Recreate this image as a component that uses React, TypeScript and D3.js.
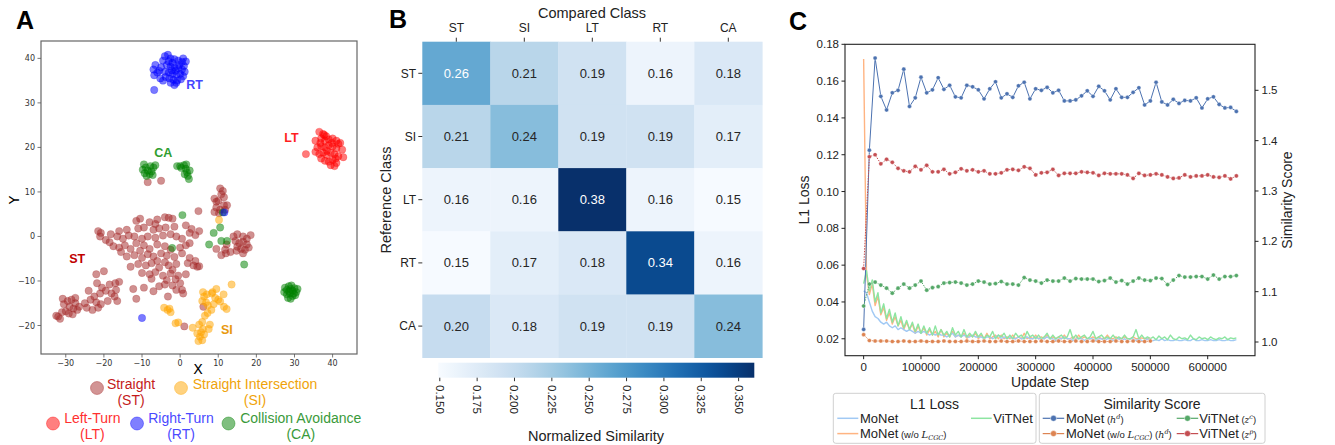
import React from 'react';
import * as d3 from 'd3';

// ---------------- Panel A data (t-SNE embedding) ----------------
const stPoints: [number, number][] = [
  [-11.5,3.5],[-10.5,4],[-8,3.2],[-6,3.8],[-4,4.3],[-3,4.2],[-2,4],[-6.5,2.8],
  [-21.5,1.2],[-20.8,0.8],[-16,1.2],[-14,1.5],[-11,1.8],[-9.5,2],[-7,1.5],[-5.5,1.8],[-3.8,2],[-1.5,2.2],[1.5,2.5],[3,1.7],[5,1.2],
  [-21,0],[-18.2,0.5],[-16.5,0],[-15,-0.5],[-13.5,0.2],[-12,0],[-10,-0.5],[-8.5,0],[-6.5,-0.3],[-4.5,0.2],[-2.5,0.5],[-1,0],[0.5,-0.5],[2.5,0.8],[4,0.3],[-19.5,-0.8],[-18.5,-1.3],
  [-17.5,-2.2],[-16,-2.5],[-14.5,-2],[-13,-2.8],[-11.5,-1.5],[-9.5,-2],[-8,-2.8],[-6,-1.8],[-4,-2.2],[-2.5,-3],[0,-2.5],[1.5,-2],[2.5,-1.5],[-15.5,-3.5],[-10.5,-3.2],
  [-14,-4.5],[-12,-4.2],[-10,-4.8],[-8.5,-4],[-7,-4.5],[-5,-3.8],[-3.5,-4.3],[-1.5,-4.6],[0.5,-3.8],[-6,-5.5],[-4,-5.8],
  [-13,-6.8],[-11,-6.2],[-9,-6.5],[-7.5,-6],[-5.5,-7],[-3,-6.5],[-1,-6.2],[2,-6],[3.5,-6.5],[4.5,-6.8],[-2,-7.5],
  [-10,-8.2],[-8,-8.5],[-6.5,-8],[-4.5,-8.8],[-2.5,-8.3],[-0.5,-8.8],[1.5,-8.5],[-7.5,-9.5],[-3.5,-9.8],[-1.2,-9.6],
  [-12.3,-11.8],[-9.5,-11.5],[-7,-12.3],[-4,-10.8],[-2,-11],[0,-10.5],[0.5,-12],[0.8,-12.8],[-1,-12],[-5.5,-11.2],
  [-22,-8.5],[-20,-7.8],[-21.8,-10.5],[-20.5,-11.5],[-18.5,-10.8],[-17,-10.5],[-16,-10.2],[-19.5,-12.2],[-18,-12.8],[-17.2,-13.5],
  [-16.5,-14.5],[-21,-12.8],[-22.5,-13.5],[-24,-12.2],[-23.5,-14.2],[-22,-14.8],[-20.8,-15.2],[-25,-15],[-24.5,-16],[-23,-16.5],
  [-21.5,-16],[-26.5,-15.8],[-27.5,-13.8],[-28.5,-14.2],[-29.5,-14.5],[-30.5,-15.2],[-29,-15.8],[-28,-16.2],[-27,-16.5],[-30,-16.8],
  [-29.2,-17.3],[-28.2,-17.5],[-31,-17],[-32,-18],[-31.5,-18.5],[-32.5,-17.8],[-27.5,-15],[-30.8,-14],[-19,-14.5],[-16.8,-12],
  [10.5,10.8],[11.2,10.2],[10.8,9.5],[11.5,8.8],[9,8.5],[9.5,7.8],[10,8],[12.3,7],[11.5,7],[9.5,6.5],[10.5,6],[9,5.5],[10.2,5.2],[11.8,6],
  [14,0],[15,0.5],[16.5,0],[17.5,-0.5],[18.5,0.3],[14.5,-1],[15.5,-1.5],[16.5,-1.2],[17.5,-1.8],[15,-2.3],[16,-2.8],[17,-3],[18,-2.5],
  [16.5,-3.8],[14.8,-3.2],[13.2,-3.5],[12,-3.8],[11.8,-3],[9.5,-2.8],[10.8,-4.2],[12.2,-1.8],
  [-8.5,12.2],[-5,12.5],[4.8,5.7],[6.1,-15.8],[1.1,-20.2],[-3.2,-13.5],[4,-5.5],[2.5,-4.8],[-11.5,-14],[5,-6.7]
];
const siPoints: [number, number][] = [
  [-4.2,-16],[-3.3,-16.5],[-2.5,-17],[-2.8,-16.2],[-1.2,-19.5],[-0.5,-19.3],[3.3,-20.5],[5,-19.8],[5.8,-19.2],[6,-20.8],
  [4.5,-21.8],[5.2,-22.5],[5.8,-23.3],[4.8,-23.5],[5.5,-21.5],[6.3,-22],[7.5,-20.8],[7.8,-19.8],[6.5,-17.8],[7.2,-17.2],
  [8.2,-16.5],[8.8,-15.2],[9.2,-13.8],[8.5,-12.5],[6,-12.5],[6.3,-13.5],[5.8,-14.5],[7,-13],[8.3,-12.8],[9.5,-11.8],
  [10,-14.2],[10.5,-14.6],[11.5,-15.8],[12.2,-16.3],[11.4,-13],[13.5,-10.8],[6.8,-14.8],[10.2,3.7],[7.3,-15.5]
];
const ltPoints: [number, number][] = [
  [33,18.5],[35.5,21.5],[36.5,23.5],[37.5,23],[38.3,22.5],[37,22],[38,21.5],[39,21.8],[40,22],[41,21.5],[42,21],
  [36,20],[37,20.3],[38,20],[39,20.5],[40,20.2],[41,19.8],[42.5,19.5],[35.5,19],[36.5,18.5],[37.5,18.8],[38.5,18.3],
  [39.5,18.8],[40.5,18.5],[41.5,18],[42.8,17.8],[37,17.5],[38,17],[39,16.8],[40,17.2],[41,16.5],[40.5,15.8],[39.5,16],
  [38.5,19.2],[39.8,21],[36.8,21],[41.5,20.8],[37.8,22.8],[40.8,17.5]
];
const rtPoints: [number, number][] = [
  [-6.5,38.5],[-7,37.5],[-6,36.8],[-6.8,36.2],[-5,38],[-4.5,39.5],[-4,40.5],[-3.2,40.8],[-2.5,40],[-1.5,39.8],[-0.5,39.5],
  [0.5,39.2],[1.5,39.3],[-3.5,38.5],[-2.5,38.2],[-1.5,38],[-0.5,37.8],[0.5,37.5],[1,38.3],[-4,37],[-3,36.8],[-2,36.5],
  [-1,36.3],[0,36.5],[0.8,36],[-3.8,35.8],[-2.8,35.5],[-1.8,35.2],[-0.8,35],[0.2,35.3],[-2.5,34.5],[-1.5,34],[-1,34.5],
  [-5.2,35.5],[-4.5,35],[-6.8,32.9],[1.2,37],[-3,39.3],[-2,39],[-5.5,37.2],[-0.2,38.5],[-1.2,37.2],[-2.2,37.3],[0.8,40],
  [-10,-18.3],[11.6,5.4]
];
const caPoints: [number, number][] = [
  [-9.5,16.2],[-9.8,15],[-9.3,14.2],[-8.5,14.8],[-8,14],[-7.5,14.6],[-7,15.5],[-6.5,16],[-8.8,13.6],[-7.8,15.8],[-9,15.5],[-7.2,13.8],
  [-0.8,15.8],[0,15.8],[1,16],[1.5,15.2],[1.8,14.4],[2,13.6],[2.3,12.9],[1.2,14],[0.3,15.4],[1.6,16.2],[2.5,14.8],
  [27.5,-11.5],[28,-12],[28.5,-11.2],[29,-11.8],[29.5,-12.2],[30,-11.6],[30.5,-12.5],[28,-13],[28.8,-12.8],[29.5,-13.4],
  [30.2,-13.2],[28.3,-13.8],[29,-14],[27.3,-12.5],[30.8,-11.8],[29.2,-11],[28.6,-12.3],[29.8,-12.8],
  [0.6,4.8],[11.2,5.4],[10.5,2],[8.8,0.8],[10.8,-1],[12.3,-1],[7.6,-1.8],[-2.1,-2.6],[16.8,-6.3]
];
const scatterTicksX = [-30, -20, -10, 0, 10, 20, 30, 40];
const scatterTicksY = [-20, -10, 0, 10, 20, 30, 40];
const clusterLabels = [
  { text: 'RT', x: 1.6, y: 33.1, color: '#4646ff' },
  { text: 'LT', x: 27.3, y: 21.3, color: '#ff1f1f' },
  { text: 'CA', x: -6.8, y: 17.75, color: '#2f9e2f' },
  { text: 'ST', x: -29.1, y: -6.07, color: '#c00000' },
  { text: 'SI', x: 10.7, y: -21.95, color: '#e8990f' },
];

// ---------------- Panel B data ----------------
const classNames = ['ST', 'SI', 'LT', 'RT', 'CA'];
const heatST = [0.26, 0.21, 0.19, 0.16, 0.18];
const heatSI = [0.21, 0.24, 0.19, 0.19, 0.17];
const heatLT = [0.16, 0.16, 0.38, 0.16, 0.15];
const heatRT = [0.15, 0.17, 0.18, 0.34, 0.16];
const heatCA = [0.20, 0.18, 0.19, 0.19, 0.24];
const colorbarTicks = [0.150, 0.175, 0.200, 0.225, 0.250, 0.275, 0.300, 0.325, 0.350];

// ---------------- Panel C data ----------------
const lossStep = 5000;
const simStep = 10000;
const lossMoNet = [
  0.046,0.045,0.040,0.035,0.032,0.031,0.029,0.028,0.029,0.027,0.026,0.027,0.025,0.026,0.025,0.024,0.025,0.024,0.023,0.024,0.023,
  0.024,0.023,0.022,0.023,0.022,0.023,0.022,0.022,0.021,0.022,0.023,0.021,0.022,0.021,0.022,0.021,0.021,0.022,0.021,0.021,
  0.021,0.020,0.021,0.021,0.020,0.021,0.022,0.020,0.021,0.020,0.021,0.020,0.020,0.021,0.020,0.020,0.021,0.020,0.020,0.021,
  0.020,0.020,0.020,0.021,0.020,0.020,0.019,0.020,0.020,0.021,0.020,0.020,0.019,0.020,0.020,0.020,0.019,0.020,0.020,0.020,
  0.019,0.020,0.020,0.019,0.020,0.020,0.019,0.020,0.020,0.019,0.020,0.019,0.020,0.020,0.019,0.020,0.019,0.019,0.020,0.019,
  0.019,0.0195,0.019,0.020,0.019,0.0195,0.019,0.019,0.0195,0.019,0.019,0.0195,0.019,0.019,0.020,0.019,0.019,0.0195,0.019,0.019,
  0.0195,0.019,0.019,0.0195,0.019,0.019,0.0195,0.019,0.019,0.0195
];
const lossViTNet = [
  0.050,0.057,0.046,0.052,0.040,0.045,0.034,0.039,0.031,0.036,0.029,0.034,0.027,0.032,0.026,0.030,0.025,0.029,0.024,0.028,0.023,
  0.027,0.023,0.026,0.022,0.027,0.022,0.025,0.022,0.024,0.021,0.026,0.022,0.024,0.021,0.025,0.021,0.023,0.021,0.024,0.021,
  0.023,0.020,0.022,0.021,0.024,0.020,0.022,0.021,0.023,0.020,0.022,0.020,0.023,0.021,0.022,0.020,0.024,0.021,0.022,0.020,
  0.022,0.020,0.021,0.023,0.020,0.022,0.020,0.021,0.022,0.020,0.021,0.025,0.020,0.022,0.020,0.021,0.022,0.020,0.021,0.024,
  0.020,0.021,0.022,0.020,0.021,0.020,0.022,0.020,0.021,0.020,0.022,0.020,0.020,0.021,0.025,0.020,0.022,0.020,0.021,0.020,
  0.021,0.0195,0.0215,0.020,0.021,0.0195,0.022,0.020,0.0195,0.021,0.020,0.0205,0.0195,0.022,0.020,0.0195,0.021,0.020,0.0205,0.0195,
  0.021,0.020,0.0195,0.0205,0.020,0.021,0.0195,0.0205,0.020,0.0205
];
const lossMoNetNoCGC = [
  0.172,0.055,0.044,0.050,0.038,0.043,0.033,0.037,0.030,0.034,0.028,0.032,0.027,0.030,0.025,0.029,0.025,0.028,0.023,0.027,0.023,
  0.026,0.022,0.025,0.022,0.024,0.021,0.025,0.021,0.023,0.021,0.024,0.021,0.022,0.021,0.023,0.020,0.022,0.021,0.023,0.020,
  0.022,0.020,0.023,0.020,0.021,0.022,0.020,0.022,0.020,0.021,0.020,0.022,0.020,0.021,0.020,0.023,0.020,0.021,0.020,0.022,
  0.020,0.021,0.020,0.022,0.020,0.021,0.020,0.021,0.020,0.022,0.020,0.020,0.021,0.020,0.022,0.020,0.021,0.020,0.020,0.021,
  0.020,0.021,0.020,0.020,0.022,0.020,0.020,0.021,0.020,0.020,0.021,0.020,0.020,0.021,0.020,0.020,0.0205,0.020,0.020,0.0205
];
const simMoNet = [
  1.025,1.381,1.564,1.488,1.461,1.495,1.500,1.542,1.468,1.485,1.526,1.495,1.501,1.525,1.502,1.510,1.487,1.485,1.510,1.507,
  1.501,1.483,1.503,1.517,1.485,1.493,1.486,1.509,1.516,1.483,1.503,1.500,1.506,1.495,1.500,1.479,1.479,1.481,1.489,1.499,
  1.488,1.508,1.499,1.481,1.503,1.486,1.486,1.496,1.505,1.471,1.479,1.516,1.477,1.471,1.482,1.474,1.480,1.479,1.485,1.465,
  1.483,1.487,1.472,1.465,1.466,1.458
];
const simMoNetNoCGC = [
  1.0146,1.003,1.002,1.002,1.002,1.001,1.001,1.002,1.001,1.001,1.002,1.001,1.001,1.001,1.002,1.001,1.001,1.001,1.002,1.001,
  1.001,1.002,1.001,1.001,1.002,1.001,1.001,1.002,1.001,1.001,1.001,1.002,1.001,1.001,1.002,1.001,1.001,1.002,1.001,1.001,
  1.002,1.001,1.001,1.001,1.002,1.001,1.001,1.002,1.001,1.001,1.002
];
const simViTNetC = [
  1.0715,1.115,1.119,1.113,1.107,1.097,1.107,1.115,1.107,1.113,1.121,1.103,1.108,1.110,1.117,1.118,1.119,1.117,1.113,1.115,
  1.121,1.119,1.115,1.116,1.120,1.115,1.115,1.113,1.128,1.123,1.121,1.117,1.123,1.121,1.121,1.127,1.121,1.126,1.125,1.125,
  1.125,1.120,1.122,1.127,1.119,1.122,1.115,1.121,1.127,1.123,1.122,1.127,1.126,1.114,1.123,1.132,1.129,1.129,1.130,1.130,
  1.125,1.133,1.125,1.130,1.130,1.132
];
const simViTNetP = [
  1.146,1.368,1.372,1.354,1.363,1.357,1.345,1.340,1.338,1.349,1.342,1.351,1.338,1.338,1.343,1.334,1.337,1.344,1.340,1.342,
  1.338,1.340,1.334,1.334,1.336,1.342,1.343,1.341,1.348,1.345,1.332,1.336,1.337,1.343,1.331,1.335,1.335,1.335,1.338,1.337,
  1.336,1.331,1.335,1.334,1.334,1.334,1.332,1.325,1.335,1.331,1.332,1.334,1.332,1.328,1.325,1.326,1.332,1.328,1.330,1.330,
  1.332,1.328,1.327,1.330,1.324,1.330
];
const lossTicks = [0.02, 0.04, 0.06, 0.08, 0.10, 0.12, 0.14, 0.16, 0.18];
const simTicks = [1.0, 1.1, 1.2, 1.3, 1.4, 1.5];
const stepTicks = [0, 100000, 200000, 300000, 400000, 500000, 600000];

const SANS = "'Liberation Sans', Arial, sans-serif";
const DJ = "'DejaVu Sans', sans-serif";

function PanelA() {
  const x = d3.scaleLinear().domain([-36.5, 46.4]).range([41, 357]);
  const y = d3.scaleLinear().domain([-26.4, 43.9]).range([354, 41]);
  const groups = [
    { pts: stPoints, color: '#a52a2a' },
    { pts: siPoints, color: '#ffa500' },
    { pts: ltPoints, color: '#ff0000' },
    { pts: rtPoints.slice(0, rtPoints.length - 2), color: '#0000ff' },
    { pts: caPoints, color: '#008000' },
    { pts: rtPoints.slice(rtPoints.length - 2), color: '#0000ff' },
  ];
  const legend = [
    { cx: 97, cy: 388, color: '#a52a2a', tx: 131, l1: 'Straight', l2: '(ST)', tc: '#c41a1a', b: 388.5 },
    { cx: 181, cy: 388, color: '#ffa500', tx: 255, l1: 'Straight Intersection', l2: '(SI)', tc: '#f0a30a', b: 388.5 },
    { cx: 53, cy: 423.5, color: '#ff0000', tx: 92.3, l1: 'Left-Turn', l2: '(LT)', tc: '#ff3030', b: 422.5 },
    { cx: 137, cy: 423.5, color: '#0000ff', tx: 181, l1: 'Right-Turn', l2: '(RT)', tc: '#4a4aff', b: 422.5 },
    { cx: 228.5, cy: 423.5, color: '#008000', tx: 300.8, l1: 'Collision Avoidance', l2: '(CA)', tc: '#3a9a3a', b: 422.5 },
  ];
  return (
    <g>
      <text x={16} y={29} fontFamily={SANS} fontWeight="bold" fontSize={25}>A</text>
      <rect x={41} y={41} width={316} height={313} fill="#fff" stroke="#666" strokeWidth={1.2} />
      {groups.map((g, gi) => g.pts.map((p, i) => (
        <circle key={gi + '-' + i} cx={x(p[0])} cy={y(p[1])} r={3.7} fill={g.color} fillOpacity={0.52}
          stroke={g.color} strokeOpacity={0.35} strokeWidth={0.6} />
      )))}
      {scatterTicksX.map(t => (
        <g key={'xt' + t}>
          <line x1={x(t)} x2={x(t)} y1={354} y2={357.5} stroke="#555" strokeWidth={0.8} />
          <text x={x(t)} y={366} textAnchor="middle" fontFamily={DJ} fontSize={8} fill="#333">{t < 0 ? '\u2212' + (-t) : t}</text>
        </g>
      ))}
      {scatterTicksY.map(t => (
        <g key={'yt' + t}>
          <line x1={37.5} x2={41} y1={y(t)} y2={y(t)} stroke="#555" strokeWidth={0.8} />
          <text x={35} y={y(t) + 3} textAnchor="end" fontFamily={DJ} fontSize={8} fill="#333">{t < 0 ? '\u2212' + (-t) : t}</text>
        </g>
      ))}
      {clusterLabels.map(c => (
        <text key={c.text} x={x(c.x)} y={y(c.y)} fontFamily={SANS} fontWeight="bold" fontSize={12.5} fill={c.color}>{c.text}</text>
      ))}
      <text x={198} y={374} textAnchor="middle" fontFamily={DJ} fontSize={14}>X</text>
      <text transform="translate(19,200) rotate(-90)" textAnchor="middle" fontFamily={DJ} fontSize={14}>Y</text>
      {legend.map(l => (
        <g key={l.l1}>
          <circle cx={l.cx} cy={l.cy} r={6.5} fill={l.color} fillOpacity={0.5} stroke={l.color} strokeOpacity={0.5} strokeWidth={0.8} />
          <text x={l.tx} y={l.b} textAnchor="middle" fontFamily={SANS} fontSize={14} fill={l.tc}>{l.l1}</text>
          <text x={l.tx} y={l.b + 16.5} textAnchor="middle" fontFamily={SANS} fontSize={14} fill={l.tc}>{l.l2}</text>
        </g>
      ))}
    </g>
  );
}

function PanelB() {
  const rows = [heatST, heatSI, heatLT, heatRT, heatCA];
  const xb = d3.scaleBand<string>().domain(classNames).range([422.3, 762.3]);
  const yb = d3.scaleBand<string>().domain(classNames).range([41.7, 357.7]);
  const color = d3.scaleSequential(d3.interpolateBlues).domain([0.149, 0.3605]).clamp(true);
  const cb = d3.scaleLinear().domain([0.149, 0.3605]).range([438.3, 754.3]);
  const stops = d3.range(0, 1.0001, 0.05);
  return (
    <g>
      <defs>
        <linearGradient id="cbgrad" x1="0" x2="1" y1="0" y2="0">
          {stops.map(s => <stop key={s} offset={s} stopColor={d3.interpolateBlues(s)} />)}
        </linearGradient>
      </defs>
      <text x={389} y={28} fontFamily={SANS} fontWeight="bold" fontSize={25}>B</text>
      <text x={592} y={18} textAnchor="middle" fontFamily={SANS} fontSize={14.5} fill="#222">Compared Class</text>
      {rows.map((row, ri) => row.map((v, ci) => (
        <g key={ri + '-' + ci}>
          <rect x={xb(classNames[ci])} y={yb(classNames[ri])} width={xb.bandwidth() + 0.3} height={yb.bandwidth() + 0.3} fill={color(v)} />
          <text x={xb(classNames[ci])! + xb.bandwidth() / 2} y={yb(classNames[ri])! + yb.bandwidth() / 2 + 4.5}
            textAnchor="middle" fontFamily={SANS} fontSize={13} fill={v > 0.25 ? '#fff' : '#262626'}>{v.toFixed(2)}</text>
        </g>
      )))}
      {classNames.map(c => (
        <g key={'c' + c}>
          <line x1={xb(c)! + xb.bandwidth() / 2} x2={xb(c)! + xb.bandwidth() / 2} y1={37.7} y2={41.7} stroke="#333" />
          <text x={xb(c)! + xb.bandwidth() / 2} y={32} textAnchor="middle" fontFamily={SANS} fontSize={12} fill="#222">{c}</text>
          <line x1={418.3} x2={422.3} y1={yb(c)! + yb.bandwidth() / 2} y2={yb(c)! + yb.bandwidth() / 2} stroke="#333" />
          <text x={416} y={yb(c)! + yb.bandwidth() / 2 + 4.3} textAnchor="end" fontFamily={SANS} fontSize={12} fill="#222">{c}</text>
        </g>
      ))}
      <text transform="translate(391,200) rotate(-90)" textAnchor="middle" fontFamily={SANS} fontSize={14.5} fill="#222">Reference Class</text>
      <rect x={438.3} y={362.7} width={316} height={15} fill="url(#cbgrad)" />
      {colorbarTicks.map(t => (
        <g key={'cb' + t}>
          <line x1={cb(t)} x2={cb(t)} y1={377.7} y2={381.2} stroke="#333" />
          <text transform={`translate(${cb(t)},385) rotate(90)`} textAnchor="start" dy="0.35em" fontFamily={SANS} fontSize={11.5} fill="#222">{t.toFixed(3)}</text>
        </g>
      ))}
      <text x={596} y={441} textAnchor="middle" fontFamily={SANS} fontSize={14.5} fill="#222">Normalized Similarity</text>
    </g>
  );
}

function PanelC() {
  const x = d3.scaleLinear().domain([-32500, 682500]).range([845, 1255]);
  const yL = d3.scaleLinear().domain([0.0108, 0.18]).range([355.7, 44.3]);
  const yR = d3.scaleLinear().domain([0.9728, 1.5914]).range([355.7, 44.3]);
  const lossLine = d3.line<number>().x((_, i) => x(i * lossStep)).y(v => yL(v));
  const simLine = d3.line<number>().x((_, i) => x(i * simStep)).y(v => yR(v));
  const losses = [
    { data: lossMoNetNoCGC, color: '#ffb482' },
    { data: lossMoNet, color: '#a1c9f4' },
    { data: lossViTNet, color: '#8de5a1' },
  ];
  const sims = [
    { data: simMoNet, color: '#4c72b0', dash: undefined },
    { data: simMoNetNoCGC, color: '#dd8452', dash: '1.5,1.2' },
    { data: simViTNetC, color: '#55a868', dash: '1.5,1.2' },
    { data: simViTNetP, color: '#c44e52', dash: '1.5,1.2' },
  ];
  const small = 9.5;
  return (
    <g>
      <defs>
        <clipPath id="cclip"><rect x={845} y={44.3} width={410} height={311.4} /></clipPath>
      </defs>
      <text x={789} y={30} fontFamily={SANS} fontWeight="bold" fontSize={25}>C</text>
      <g clipPath="url(#cclip)">
        {losses.map((l, i) => (
          <path key={'l' + i} d={lossLine(l.data)!} fill="none" stroke={l.color} strokeWidth={1.4} strokeLinejoin="round" />
        ))}
        {sims.map((s, i) => (
          <g key={'s' + i}>
            <path d={simLine(s.data)!} fill="none" stroke={s.color} strokeWidth={1} strokeDasharray={s.dash} />
            {s.data.map((v, j) => (
              <circle key={j} cx={x(j * simStep)} cy={yR(v)} r={2.1} fill={s.color} stroke="#fff" strokeWidth={0.4} />
            ))}
          </g>
        ))}
      </g>
      <rect x={845} y={44.3} width={410} height={311.4} fill="none" stroke="#222" strokeWidth={1.1} />
      {lossTicks.map(t => (
        <g key={'lt' + t}>
          <line x1={841.5} x2={845} y1={yL(t)} y2={yL(t)} stroke="#222" />
          <text x={839} y={yL(t) + 4} textAnchor="end" fontFamily={SANS} fontSize={11.5} fill="#222">{t.toFixed(2)}</text>
        </g>
      ))}
      {simTicks.map(t => (
        <g key={'st' + t}>
          <line x1={1255} x2={1258.5} y1={yR(t)} y2={yR(t)} stroke="#222" />
          <text x={1261.5} y={yR(t) + 4} textAnchor="start" fontFamily={SANS} fontSize={11.5} fill="#222">{t.toFixed(1)}</text>
        </g>
      ))}
      {stepTicks.map(t => (
        <g key={'xt' + t}>
          <line x1={x(t)} x2={x(t)} y1={355.7} y2={359.2} stroke="#222" />
          <text x={x(t)} y={371} textAnchor="middle" fontFamily={SANS} fontSize={11.5} fill="#222">{t}</text>
        </g>
      ))}
      <text x={1050} y={387} textAnchor="middle" fontFamily={SANS} fontSize={14} fill="#222">Update Step</text>
      <text transform="translate(809,200) rotate(-90)" textAnchor="middle" fontFamily={SANS} fontSize={14} fill="#222">L1 Loss</text>
      <text transform="translate(1292,200) rotate(-90)" textAnchor="middle" fontFamily={SANS} fontSize={14} fill="#222">Similarity Score</text>

      {/* legend: L1 Loss */}
      <rect x={833.3} y={393.3} width={202.7} height={50} rx={2.5} fill="#fff" stroke="#d0d0d0" strokeWidth={1} />
      <text x={934.5} y={408.5} textAnchor="middle" fontFamily={SANS} fontSize={14} fill="#222">L1 Loss</text>
      <line x1={837.3} x2={858.3} y1={418.3} y2={418.3} stroke="#a1c9f4" strokeWidth={1.5} />
      <text x={860} y={422.8} fontFamily={SANS} fontSize={13} fill="#222">MoNet</text>
      <line x1={971} x2={991.7} y1={418.3} y2={418.3} stroke="#8de5a1" strokeWidth={1.5} />
      <text x={993.3} y={422.8} fontFamily={SANS} fontSize={13} fill="#222">ViTNet</text>
      <line x1={837.3} x2={858.3} y1={433.6} y2={433.6} stroke="#ffb482" strokeWidth={1.5} />
      <text x={860} y={438} fontFamily={SANS} fontSize={13} fill="#222">MoNet<tspan fontSize={small}> (w/o </tspan><tspan fontStyle="italic" fontFamily="'DejaVu Serif', serif" fontSize={10}>L</tspan><tspan fontStyle="italic" fontFamily="'DejaVu Serif', serif" fontSize={6.5} dy={2}>CGC</tspan><tspan fontSize={small} dy={-2}>)</tspan></text>

      {/* legend: Similarity Score */}
      <rect x={1039.3} y={393.3} width={225.7} height={50} rx={2.5} fill="#fff" stroke="#d0d0d0" strokeWidth={1} />
      <text x={1152} y={408.5} textAnchor="middle" fontFamily={SANS} fontSize={14} fill="#222">Similarity Score</text>
      {[
        { lx: 1042.7, ly: 418.3, color: '#4c72b0', tx: 1066, kind: 'hd' },
        { lx: 1176.7, ly: 418.3, color: '#55a868', tx: 1199.3, kind: 'zc' },
        { lx: 1042.7, ly: 433.6, color: '#dd8452', tx: 1066, kind: 'nohd' },
        { lx: 1176.7, ly: 433.6, color: '#c44e52', tx: 1199.3, kind: 'zp' },
      ].map(e => (
        <g key={e.kind}>
          <line x1={e.lx} x2={e.lx + 21.5} y1={e.ly} y2={e.ly} stroke={e.color} strokeWidth={1.2} />
          <circle cx={e.lx + 10.8} cy={e.ly} r={3} fill={e.color} stroke="#fff" strokeWidth={0.5} />
          {e.kind === 'hd' && (
            <text x={e.tx} y={e.ly + 4.5} fontFamily={SANS} fontSize={13} fill="#222">MoNet<tspan fontSize={small}> (</tspan><tspan fontStyle="italic" fontFamily="'DejaVu Serif', serif" fontSize={9.5}>h</tspan><tspan fontStyle="italic" fontFamily="'DejaVu Serif', serif" fontSize={6.5} dy={-4}>d</tspan><tspan fontSize={small} dy={4}>)</tspan></text>
          )}
          {e.kind === 'nohd' && (
            <text x={e.tx} y={e.ly + 4.5} fontFamily={SANS} fontSize={13} fill="#222">MoNet<tspan fontSize={small}> (w/o </tspan><tspan fontStyle="italic" fontFamily="'DejaVu Serif', serif" fontSize={10}>L</tspan><tspan fontStyle="italic" fontFamily="'DejaVu Serif', serif" fontSize={6.5} dy={2}>CGC</tspan><tspan fontSize={small} dy={-2}>) (</tspan><tspan fontStyle="italic" fontFamily="'DejaVu Serif', serif" fontSize={9.5}>h</tspan><tspan fontStyle="italic" fontFamily="'DejaVu Serif', serif" fontSize={6.5} dy={-4}>d</tspan><tspan fontSize={small} dy={4}>)</tspan></text>
          )}
          {e.kind === 'zc' && (
            <text x={e.tx} y={e.ly + 4.5} fontFamily={SANS} fontSize={13} fill="#222">ViTNet<tspan fontSize={small}> (</tspan><tspan fontStyle="italic" fontFamily="'DejaVu Serif', serif" fontSize={9}>z</tspan><tspan fontStyle="italic" fontFamily="'DejaVu Serif', serif" fontSize={6.5} dy={-4}>c</tspan><tspan fontSize={small} dy={4}>)</tspan></text>
          )}
          {e.kind === 'zp' && (
            <text x={e.tx} y={e.ly + 4.5} fontFamily={SANS} fontSize={13} fill="#222">ViTNet<tspan fontSize={small}> (</tspan><tspan fontStyle="italic" fontFamily="'DejaVu Serif', serif" fontSize={9}>z</tspan><tspan fontStyle="italic" fontFamily="'DejaVu Serif', serif" fontSize={6.5} dy={-4}>p</tspan><tspan fontSize={small} dy={4}>)</tspan></text>
          )}
        </g>
      ))}
    </g>
  );
}

export default function App() {
  return (
    <svg width={1335} height={445} viewBox="0 0 1335 445"
      style={{ position: 'absolute', left: 0, top: 0, background: '#fff' }}>
      <rect x={0} y={0} width={1335} height={445} fill="#fff" />
      <PanelA />
      <PanelB />
      <PanelC />
    </svg>
  );
}
